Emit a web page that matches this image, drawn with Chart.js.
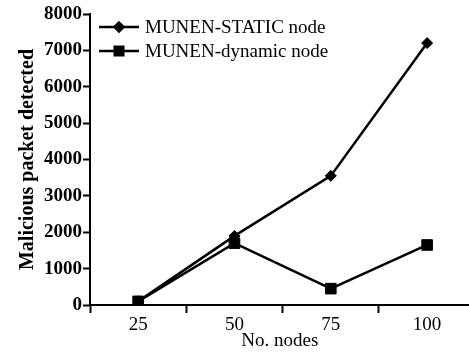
<!DOCTYPE html>
<html>
<head>
<meta charset="utf-8">
<script src="https://cdn.jsdelivr.net/npm/chart.js@4.4.1/dist/chart.umd.min.js"></script>
<style>
  html, body { margin: 0; padding: 0; background: #fff; overflow: hidden; }
  #wrap { width: 469px; height: 354px; overflow: hidden; }
</style>
</head>
<body>
<div id="wrap"><canvas id="chart" width="478" height="354"></canvas></div>
<script>
// values
const nodes = [25, 50, 75, 100];
const staticNode = [100, 1900, 3550, 7200];
const dynamicNode = [100, 1700, 450, 1650];
const seriesNames = ['MUNEN-STATIC node', 'MUNEN-dynamic node'];
const xTicks = [12.5, 25, 37.5, 50, 62.5, 75, 87.5, 100];
const yTicks = [0, 1000, 2000, 3000, 4000, 5000, 6000, 7000, 8000];

const serif = '"Liberation Serif", "Times New Roman", serif';

// legend drawn as line + marker, like the original
const lineLegend = {
  id: 'lineLegend',
  afterDraw(chart) {
    const ctx = chart.ctx;
    chart.data.datasets.forEach((ds, i) => {
      const y = 27 + i * 24;
      ctx.save();
      ctx.strokeStyle = '#000';
      ctx.fillStyle = '#000';
      ctx.lineWidth = 2.5;
      ctx.beginPath();
      ctx.moveTo(99, y);
      ctx.lineTo(139, y);
      ctx.stroke();
      Chart.helpers.drawPoint(ctx, {
        pointStyle: ds.pointStyle,
        radius: ds.pointStyle === 'rect' ? 6 : 4.5,
        rotation: 0,
        borderWidth: 1
      }, 119, y);
      ctx.font = '19px ' + serif;
      ctx.textBaseline = 'middle';
      ctx.textAlign = 'left';
      ctx.fillText(ds.label, 145, y + 1);
      ctx.restore();
    });
  }
};

new Chart(document.getElementById('chart'), {
  type: 'line',
  data: {
    datasets: [
      {
        label: seriesNames[0],
        data: nodes.map((n, i) => ({ x: n, y: staticNode[i] })),
        borderColor: '#000',
        backgroundColor: '#000',
        borderWidth: 2.5,
        pointStyle: 'rectRot',
        pointRadius: 5.5,
        pointBorderWidth: 1
      },
      {
        label: seriesNames[1],
        data: nodes.map((n, i) => ({ x: n, y: dynamicNode[i] })),
        borderColor: '#000',
        backgroundColor: '#000',
        borderWidth: 2.5,
        pointStyle: 'rect',
        pointRadius: 7.5,
        pointBorderWidth: 1
      }
    ]
  },
  options: {
    responsive: false,
    animation: false,
    layout: { padding: { top: 14, left: 16, right: 0, bottom: 0 } },
    plugins: {
      legend: { display: false },
      tooltip: { enabled: false }
    },
    scales: {
      x: {
        type: 'linear',
        min: 12.5,
        max: 111,
        afterBuildTicks: scale => { scale.ticks = xTicks.map(v => ({ value: v })); },
        afterFit: scale => { scale.height = 49; },
        ticks: {
          color: '#000',
          font: { family: serif, size: 19 },
          padding: 1,
          maxRotation: 0,
          autoSkip: false,
          callback: v => (v % 25 === 0 ? String(v) : '')
        },
        grid: {
          drawOnChartArea: false,
          drawTicks: true,
          tickLength: 8,
          tickWidth: 2,
          color: c => (c.tick && c.tick.value % 25 === 0 ? 'rgba(0,0,0,0)' : '#000')
        },
        border: { color: '#000', width: 2 },
        title: {
          display: true,
          text: 'No. nodes',
          color: '#000',
          font: { family: serif, size: 19 },
          padding: { top: 0, bottom: 2 }
        }
      },
      y: {
        min: 0,
        max: 8000,
        afterBuildTicks: scale => { scale.ticks = yTicks.map(v => ({ value: v })); },
        afterFit: scale => { scale.width = 74; },
        ticks: {
          color: '#000',
          font: { family: serif, size: 19, weight: 'bold' },
          padding: 1,
          callback: v => String(v)
        },
        grid: {
          drawOnChartArea: false,
          drawTicks: true,
          tickLength: 7,
          tickWidth: 2,
          color: '#000'
        },
        border: { color: '#000', width: 2 },
        title: {
          display: true,
          text: 'Malicious packet detected',
          color: '#000',
          font: { family: serif, size: 20, weight: 'bold' },
          padding: { top: 0, bottom: 0 }
        }
      }
    }
  },
  plugins: [lineLegend]
});
</script>
</body>
</html>
